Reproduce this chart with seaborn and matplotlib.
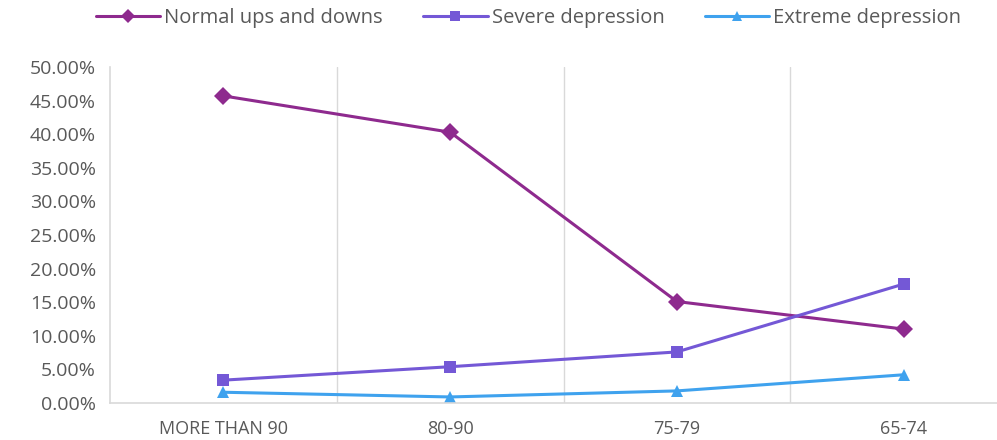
import matplotlib
matplotlib.use("Agg")
import matplotlib.pyplot as plt
import seaborn as sns
import pandas as pd
from matplotlib.ticker import PercentFormatter, MultipleLocator, FixedLocator

# Data
age_groups = ["MORE THAN 90", "80-90", "75-79", "65-74"]
normal = [45.7, 40.3, 15.1, 11.0]
severe = [3.4, 5.4, 7.6, 17.7]
extreme = [1.6, 0.9, 1.8, 4.2]

series_names = ["Normal ups and downs", "Severe depression", "Extreme depression"]
colors = ["#8E2A8E", "#7458D6", "#3FA2EE"]
markers = ["D", "s", "^"]

rows = []
for name, vals in zip(series_names, [normal, severe, extreme]):
    for i, v in enumerate(vals):
        rows.append({"pos": i, "value": v / 100, "series": name})
df = pd.DataFrame(rows)

sns.set_style("white")
plt.rcParams["font.family"] = ["Open Sans", "DejaVu Sans"]

fig = plt.figure(figsize=(9.97, 4.4), dpi=100)
ax = fig.add_axes([110 / 997, 1 - 403 / 440, 907 / 997, 336 / 440])

sns.lineplot(
    data=df, x="pos", y="value", hue="series", style="series",
    hue_order=series_names, style_order=series_names,
    palette=dict(zip(series_names, colors)),
    markers=dict(zip(series_names, markers)),
    dashes=False, linewidth=2.2, markersize=9, markeredgewidth=0,
    ax=ax,
)

ax.set_xlim(-0.5, 3.5)
ax.set_ylim(0, 0.5)
ax.yaxis.set_major_locator(MultipleLocator(0.05))
ax.yaxis.set_major_formatter(PercentFormatter(1.0, decimals=2))
ax.xaxis.set_major_locator(FixedLocator(range(len(age_groups))))
ax.set_xticklabels(age_groups)
ax.xaxis.set_minor_locator(FixedLocator([0.5, 1.5, 2.5]))
ax.grid(False)
ax.grid(which="minor", axis="x", color="#D9D9D9", linewidth=1)
ax.tick_params(axis="both", which="both", length=0)
ax.tick_params(axis="y", labelsize=14, labelcolor="#595959", pad=10)
ax.tick_params(axis="x", labelsize=13, labelcolor="#595959", pad=12)
for lbl in ax.get_xticklabels():
    lbl.set_fontstretch("expanded")
ax.set_xlabel("")
ax.set_ylabel("")

for side in ["top", "right"]:
    ax.spines[side].set_visible(False)
for side in ["left", "bottom"]:
    ax.spines[side].set_color("#D9D9D9")
    ax.spines[side].set_linewidth(1.2)

handles, labels = ax.get_legend_handles_labels()
for h in handles:
    h.set_markersize(7)
ax.legend_.remove()
fig.legend(
    handles, labels, loc="center", bbox_to_anchor=(0.53, 1 - 18 / 440),
    ncol=3, frameon=False, fontsize=14.5, labelcolor="#595959",
    handlelength=3.2, columnspacing=2.0, handletextpad=0.2,
)

fig.savefig("out.png", dpi=100)
